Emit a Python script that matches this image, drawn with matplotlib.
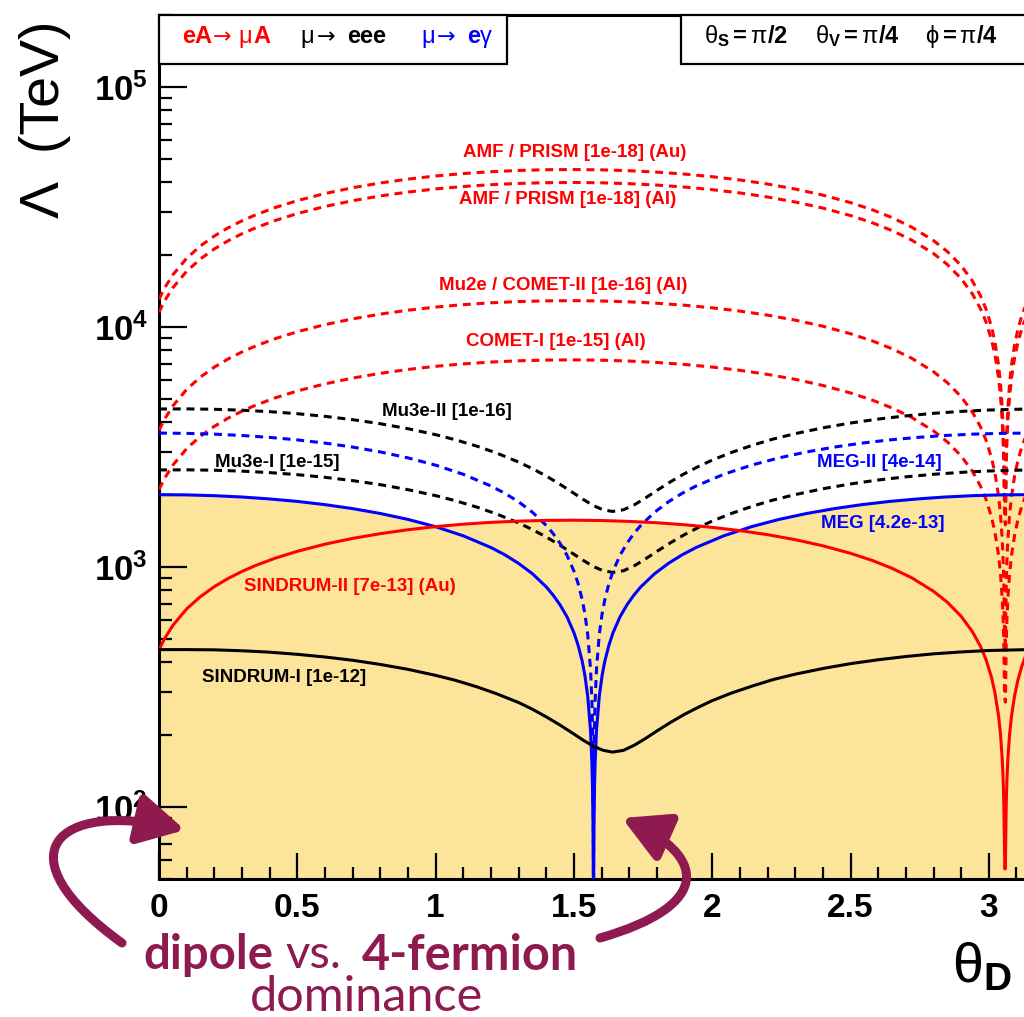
import numpy as np
import matplotlib
matplotlib.use("Agg")
import matplotlib.pyplot as plt
from matplotlib.patches import Rectangle, FancyArrowPatch
from matplotlib.path import Path
from matplotlib.ticker import FixedLocator, MultipleLocator, LogLocator, NullFormatter, FuncFormatter

plt.rcParams['font.family'] = ['Liberation Sans', 'DejaVu Sans']
plt.rcParams['mathtext.fontset'] = 'custom'
plt.rcParams['mathtext.rm'] = 'Liberation Sans'
plt.rcParams['mathtext.bf'] = 'Liberation Sans:bold'
plt.rcParams['mathtext.it'] = 'Liberation Sans:italic'
plt.rcParams['mathtext.default'] = 'regular'

# mu -> e gamma, zero at pi/2
x_gam = [0, 0.1, 0.2, 0.3, 0.4, 0.5, 0.6, 0.7, 0.8, 0.9, 1.0, 1.1, 1.2, 1.25, 1.3, 1.35, 1.4, 1.425, 1.45,
         1.475, 1.5, 1.515, 1.53, 1.54, 1.55, 1.56, 1.565, 1.567, 1.569, 1.5702, 1.5705, 1.5708,
         1.5711, 1.5714, 1.5726, 1.5746, 1.5766, 1.5816, 1.5916, 1.6016, 1.6116, 1.6266, 1.6416, 1.6666,
         1.6916, 1.7166, 1.7416, 1.7916, 1.8416, 1.8916, 1.9416, 2.0416, 2.1416, 2.2416, 2.3416, 2.4416,
         2.5416, 2.6416, 2.7416, 2.8416, 2.9416, 3.0416, 3.1416]
meg = [2000, 1995, 1980, 1955, 1919, 1874, 1817, 1749, 1669, 1577, 1470, 1347, 1204, 1123, 1034, 936, 825,
       762, 694, 619, 532, 472, 404, 351, 288, 208, 152, 123, 85, 49, 35, 1,
       35, 49, 85, 123, 152, 208, 288, 351, 404, 472, 532, 619, 694, 762, 825, 936, 1034, 1123, 1204, 1347,
       1470, 1577, 1669, 1749, 1817, 1874, 1919, 1955, 1980, 1995, 2000]
meg2 = [3610, 3601, 3574, 3528, 3464, 3382, 3280, 3157, 3013, 2846, 2654, 2431, 2173, 2027, 1867, 1689, 1488,
        1376, 1253, 1117, 960, 853, 729, 634, 521, 375, 275, 222, 153, 88, 62, 1,
        62, 88, 153, 222, 275, 375, 521, 634, 729, 853, 960, 1117, 1253, 1376, 1488, 1689, 1867, 2027, 2173,
        2431, 2654, 2846, 3013, 3157, 3280, 3382, 3464, 3528, 3574, 3601, 3610]

# mu -> eee
x_eee = [0, 0.1, 0.2, 0.3, 0.4, 0.5, 0.6, 0.7, 0.8, 0.9, 1.0, 1.07, 1.15, 1.22, 1.3, 1.35, 1.4, 1.45, 1.5,
         1.535, 1.57, 1.605, 1.64, 1.68, 1.72, 1.76, 1.8, 1.85, 1.9, 1.95, 2.0, 2.07, 2.15, 2.22, 2.3, 2.4,
         2.5, 2.6, 2.7, 2.8, 2.9, 3.0, 3.1416]
sindrum1 = [452, 452, 451, 447, 441, 432, 421, 408, 392, 374, 353, 337, 316, 296, 272, 255, 237, 219, 201,
            189, 179, 172, 169, 172, 181, 193, 207, 225, 243, 260, 277, 298, 320, 339, 357, 377, 395, 410,
            423, 434, 442, 448, 452]
mu3e2 = [4550, 4555, 4537, 4497, 4434, 4349, 4240, 4107, 3950, 3766, 3556, 3390, 3183, 2983, 2735, 2566,
         2391, 2208, 2026, 1906, 1802, 1729, 1702, 1731, 1818, 1941, 2082, 2266, 2447, 2620, 2786, 3000,
         3226, 3409, 3591, 3797, 3977, 4131, 4259, 4364, 4446, 4505, 4550]
mu3e1 = [2535, 2538, 2528, 2506, 2471, 2423, 2362, 2288, 2201, 2098, 1981, 1889, 1773, 1662, 1524, 1430,
         1332, 1230, 1129, 1062, 1004, 964, 948, 964, 1013, 1082, 1160, 1262, 1363, 1460, 1552, 1671, 1797,
         1899, 2001, 2116, 2216, 2302, 2373, 2431, 2477, 2510, 2535]

# mu -> e conversion
x_conv = [0, 0.02, 0.05, 0.1, 0.15, 0.2, 0.25, 0.3, 0.35, 0.42, 0.5, 0.6, 0.7, 0.8, 0.9, 1.0, 1.1, 1.2, 1.3,
          1.4, 1.5, 1.6, 1.7, 1.8, 1.9, 2.0, 2.1, 2.2, 2.3, 2.4, 2.5, 2.58, 2.65, 2.72, 2.8, 2.85, 2.9, 2.94,
          2.97, 2.99, 3.01, 3.022, 3.035, 3.042, 3.048, 3.0515, 3.054, 3.057, 3.0586, 3.060, 3.063, 3.0655,
          3.069, 3.075, 3.082, 3.093, 3.105, 3.12, 3.1416]
sindrum2 = [451, 502, 570, 668, 752, 827, 895, 957, 1014, 1087, 1161, 1243, 1314, 1375, 1428, 1471, 1506,
            1533, 1551, 1562, 1565, 1560, 1547, 1527, 1498, 1461, 1416, 1362, 1298, 1224, 1139, 1062, 986,
            902, 791, 712, 622, 538, 466, 410, 345, 299, 240, 202, 161, 132, 106, 63, 55, 59, 104, 130, 160,
            200, 239, 290, 337, 388, 451]
comet1 = [2099, 2337, 2654, 3110, 3503, 3852, 4168, 4456, 4722, 5062, 5409, 5791, 6121, 6407, 6650, 6853,
          7014, 7139, 7227, 7276, 7290, 7267, 7208, 7111, 6977, 6805, 6595, 6342, 6046, 5702, 5307, 4948,
          4595, 4202, 3687, 3318, 2897, 2508, 2169, 1909, 1607, 1395, 1120, 939, 751, 615, 494, 292, 280,
          273, 483, 606, 744, 934, 1115, 1352, 1570, 1806, 2099]
mu2e = [3705, 4126, 4686, 5490, 6184, 6801, 7359, 7867, 8337, 8937, 9550, 10224, 10807, 11311, 11740, 12098,
        12384, 12604, 12758, 12846, 12870, 12829, 12725, 12553, 12318, 12013, 11642, 11197, 10673, 10067,
        9369, 8735, 8112, 7418, 6508, 5857, 5115, 4427, 3829, 3369, 2837, 2462, 1977, 1658, 1326, 1085,
        873, 515, 495, 481, 853, 1069, 1313, 1649, 1969, 2387, 2772, 3189, 3705]
amf_al = [11516, 12824, 14564, 17064, 19220, 21136, 22872, 24452, 25912, 27776, 29680, 31776, 33588, 35156,
          36488, 37600, 38488, 39172, 39652, 39924, 40000, 39872, 39548, 39016, 38284, 37336, 36184, 34800,
          33172, 31288, 29120, 27148, 25212, 23056, 20228, 18204, 15896, 13760, 11900, 10472, 8816, 7652,
          6144, 5152, 4120, 3372, 2712, 1600, 1540, 1496, 2652, 3324, 4080, 5124, 6120, 7420, 8616, 9912,
          11516]
amf_au = [13042, 14523, 16494, 19325, 21767, 23937, 25903, 27692, 29345, 31456, 33613, 35986, 38038, 39814,
          41323, 42582, 43588, 44362, 44906, 45214, 45300, 45155, 44788, 44186, 43357, 42283, 40978, 39411,
          37567, 35434, 32978, 30745, 28553, 26111, 22908, 20616, 18002, 15583, 13477, 11860, 9984, 8666,
          6958, 5835, 4666, 3819, 3071, 1812, 1750, 1694, 3003, 3764, 4621, 5803, 6931, 8403, 9758, 11225,
          13042]

RED, BLUE, BLACK = '#ff0000', '#0000ff', '#000000'
SHADE = '#fde49b'
MAROON = '#8e1a50'
LW = 2.2
DASH = (2.6, 1.9)

fig = plt.figure(figsize=(10.24, 10.17), dpi=100)
ax = fig.add_axes([159 / 1024, 138 / 1017, 869 / 1024, 864.2 / 1017])

# excluded region = union below the present limits (solid curves)
for xs, ys in [(x_gam, meg), (x_conv, sindrum2), (x_eee, sindrum1)]:
    ax.fill_between(xs, 1, ys, color=SHADE, lw=0, zorder=1)

ax.plot(x_conv, amf_au, color=RED, lw=LW, dashes=DASH, zorder=3)
ax.plot(x_conv, amf_al, color=RED, lw=LW, dashes=DASH, zorder=3)
ax.plot(x_conv, mu2e, color=RED, lw=LW, dashes=DASH, zorder=3)
ax.plot(x_conv, comet1, color=RED, lw=LW, dashes=DASH, zorder=3)
ax.plot(x_eee, mu3e2, color=BLACK, lw=LW, dashes=DASH, zorder=3)
ax.plot(x_eee, mu3e1, color=BLACK, lw=LW, dashes=DASH, zorder=3)
ax.plot(x_gam, meg2, color=BLUE, lw=LW, dashes=DASH, zorder=3)
ax.plot(x_gam, meg, color=BLUE, lw=LW, zorder=4)
ax.plot(x_conv, sindrum2, color=RED, lw=LW, zorder=4)
ax.plot(x_eee, sindrum1, color=BLACK, lw=LW, zorder=4)

ax.set_yscale('log')
ax.set_xlim(0, np.pi)
ax.set_ylim(50, 2e5)

ax.xaxis.set_major_locator(FixedLocator([0, 0.5, 1, 1.5, 2, 2.5, 3]))
ax.xaxis.set_minor_locator(MultipleLocator(0.1))
ax.set_xticklabels(['0', '0.5', '1', '1.5', '2', '2.5', '3'], fontweight='bold', fontsize=24)
ax.yaxis.set_major_locator(LogLocator(base=10, numticks=10))
ax.yaxis.set_minor_locator(LogLocator(base=10, subs=np.arange(2, 10), numticks=20))
ax.yaxis.set_minor_formatter(NullFormatter())
ax.yaxis.set_major_formatter(FuncFormatter(lambda v, p: r'$\mathbf{10^{%d}}$' % round(np.log10(v))))
ax.tick_params(axis='y', labelsize=25)
ax.tick_params(which='major', direction='in', length=20, width=1.6, top=False, right=False, pad=8)
ax.tick_params(which='minor', direction='in', length=9, width=1.6, top=False, right=False)
ax.tick_params(axis='x', which='major', length=19, pad=10)
for s in ax.spines.values():
    s.set_linewidth(2.2)

# curve labels
labels = [
    ("AMF / PRISM [1e-18] (Au)", RED, 0.4787, 0.8412),
    ("AMF / PRISM [1e-18] (Al)", RED, 0.4707, 0.7857),
    ("Mu2e / COMET-II [1e-16] (Al)", RED, 0.4649, 0.6873),
    ("COMET-I [1e-15] (Al)", RED, 0.4568, 0.6214),
    ("Mu3e-II [1e-16]", BLACK, 0.3314, 0.5404),
    ("Mu3e-I [1e-15]", BLACK, 0.1358, 0.4825),
    ("MEG-II [4e-14]", BLUE, 0.8285, 0.4814),
    ("MEG [4.2e-13]", BLUE, 0.8332, 0.4119),
    ("SINDRUM-II [7e-13] (Au)", RED, 0.2198, 0.3379),
    ("SINDRUM-I [1e-12]", BLACK, 0.1438, 0.2326),
]
for txt, col, fx, fy in labels:
    ax.text(fx, fy, txt, color=col, fontsize=13.5, fontweight='bold', ha='center', va='center',
            transform=ax.transAxes, zorder=6)

# header boxes
ax.add_patch(Rectangle((0, 0.9431), 0.4005, 0.0569, transform=ax.transAxes, fc='white', ec='black',
                       lw=1.6, zorder=7, clip_on=False))
ax.add_patch(Rectangle((0.6007, 0.9431), 0.45, 0.0569, transform=ax.transAxes, fc='white', ec='black',
                       lw=1.6, zorder=7, clip_on=False))
by = 0.9674
pieces = [
    ("eA", RED, 'bold', 0.0265, None), ("\u2192", RED, 'normal', 0.0621, 'DejaVu Sans'),
    ("\u03bc", RED, 'normal', 0.0910, None), ("A", RED, 'bold', 0.1082, None),
    ("\u03bc", BLACK, 'normal', 0.1623, None), ("\u2192", BLACK, 'normal', 0.1810, 'DejaVu Sans'),
    ("eee", BLACK, 'bold', 0.2163, None),
    ("\u03bc", BLUE, 'normal', 0.3015, None), ("\u2192", BLUE, 'normal', 0.3200, 'DejaVu Sans'),
    ("e", BLUE, 'bold', 0.3544, None), ("\u03b3", BLUE, 'normal', 0.3694, None),
]
for txt, col, w, fx, fam in pieces:
    t = ax.text(fx, by, txt, color=col, fontweight=w, fontsize=17, ha='left', va='baseline',
                transform=ax.transAxes, zorder=8)
    if fam:
        t.set_family(fam)
        t.set_fontsize(16)
params = [
    (r'$\theta_{\mathbf{S}}\mathbf{=}\pi\mathbf{/2}$', 0.6271),
    (r'$\theta_{\mathbf{V}}\mathbf{=}\pi\mathbf{/4}$', 0.7549),
    (r'$\phi\mathbf{=}\pi\mathbf{/4}$', 0.8814),
]
for txt, fx in params:
    ax.text(fx, by, txt, color=BLACK, fontsize=17, ha='left', va='baseline', transform=ax.transAxes, zorder=8)

# axis titles
fig.text(45 / 1024, 1 - 20 / 1017, '\u039b  (TeV)', rotation=90, fontsize=40, ha='center', va='top')
fig.text(1012 / 1024, 1 - 968 / 1017, r'$\theta_{\mathbf{D}}$', fontsize=40, ha='right', va='center')

# annotation
fig.text(143 / 1024, 1 - 955 / 1017, 'dipole', color=MAROON, fontsize=34, fontweight='bold', family='Lato',
         ha='left', va='center')
fig.text(285 / 1024, 1 - 955 / 1017, 'vs.', color=MAROON, fontsize=34, family='Lato', ha='left', va='center')
fig.text(362 / 1024, 1 - 955 / 1017, '4-fermion', color=MAROON, fontsize=35, fontweight='bold', family='Lato',
         ha='left', va='center')
fig.text(366 / 1024, 1 - 997 / 1017, 'dominance', color=MAROON, fontsize=35, family='Lato', ha='center',
         va='center')


def px_path(pts):
    verts = [(px / 1024, 1 - py / 1017) for px, py in pts]
    return Path(verts, [Path.MOVETO, Path.CURVE4, Path.CURVE4, Path.CURVE4])


for pts in [[(122, 943), (0, 855), (55, 800), (185, 830)],
            [(600, 938), (715, 905), (705, 855), (622, 818)]]:
    arr = FancyArrowPatch(path=px_path(pts), arrowstyle='-|>,head_length=1.1,head_width=0.6',
                          mutation_scale=25, lw=6.5, color=MAROON, transform=fig.transFigure, zorder=10)
    fig.add_artist(arr)

fig.savefig('out.png', dpi=100)
